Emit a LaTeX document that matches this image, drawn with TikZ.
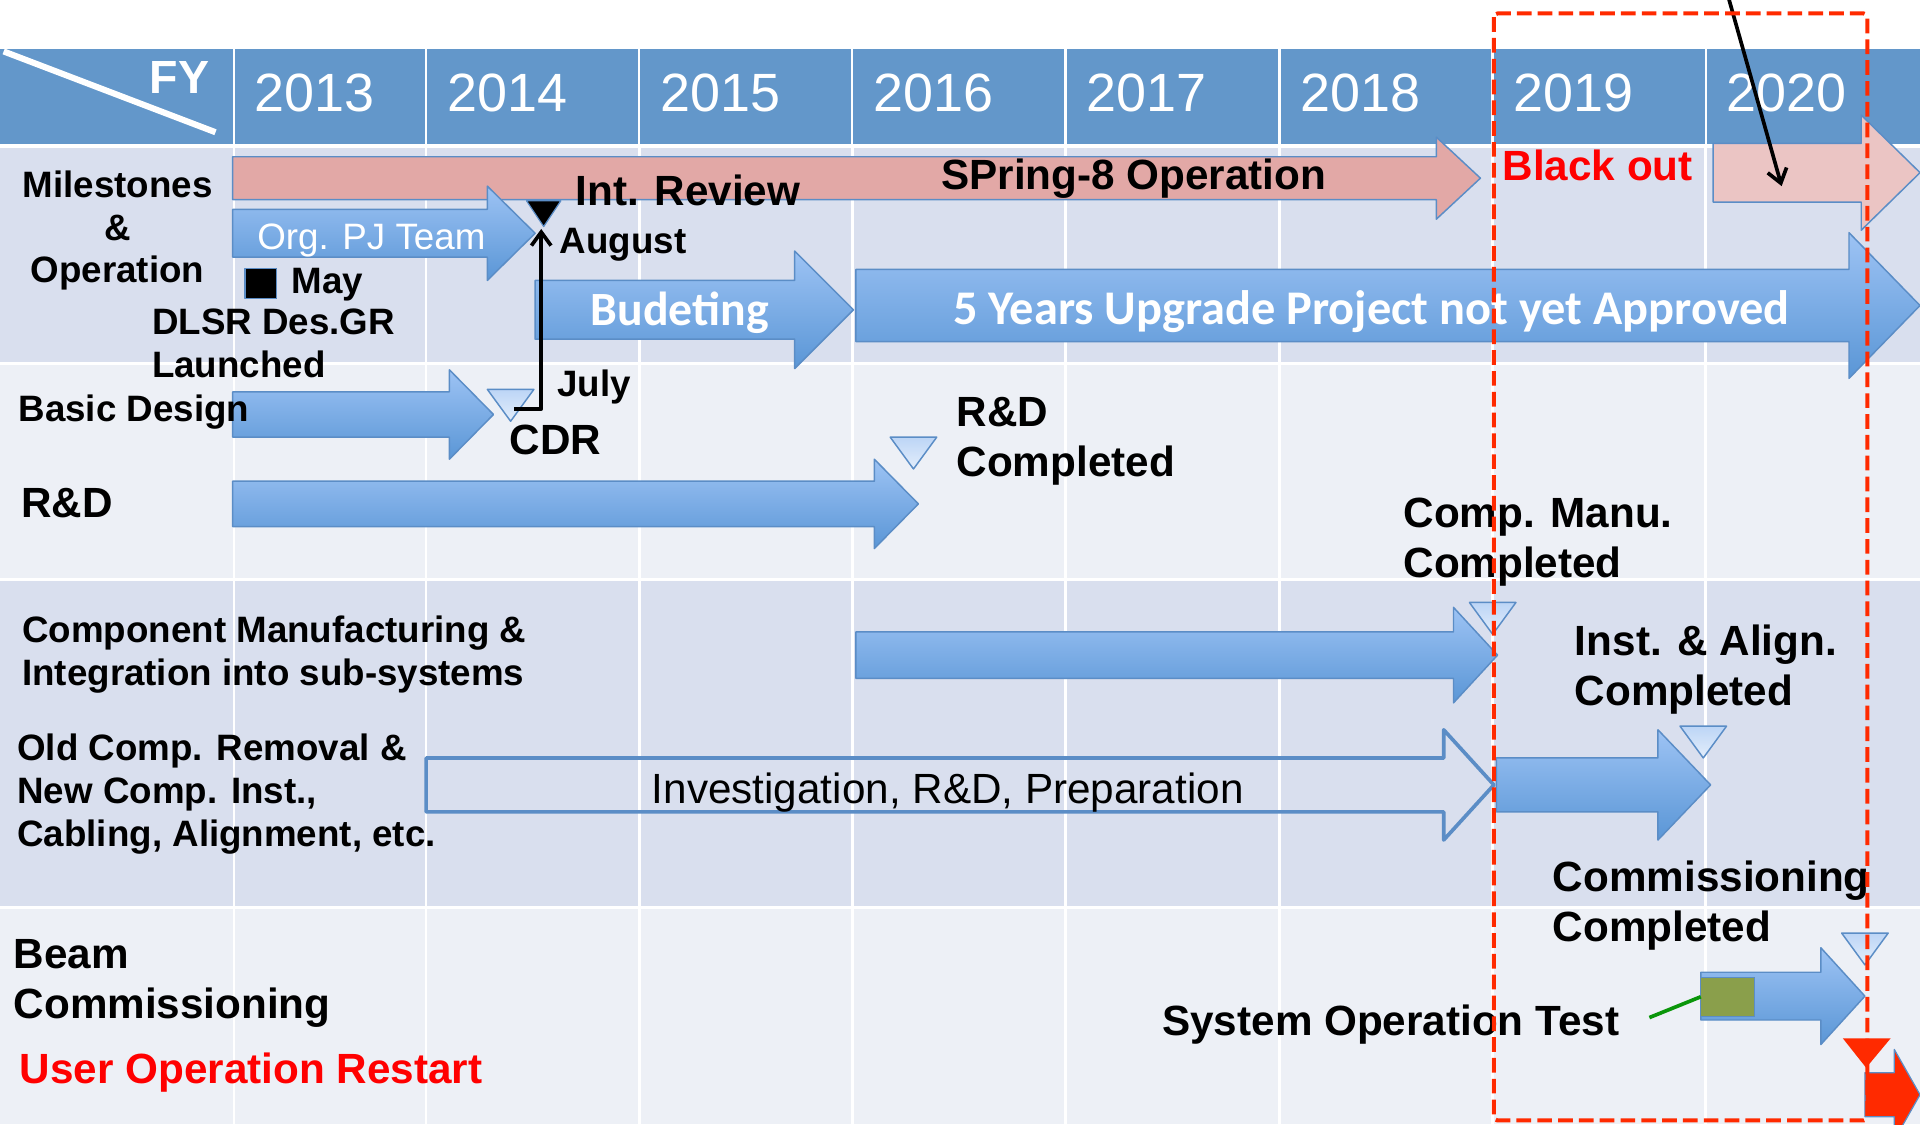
\documentclass[tikz,border=0pt]{standalone}
\usepackage{fontspec}
\setmainfont{Liberation Sans}
\newfontfamily\calibfont{Carlito}
\usetikzlibrary{arrows.meta}

\definecolor{hdrblue}{HTML}{6397CA}
\definecolor{rowdark}{HTML}{D9DFEE}
\definecolor{rowlight}{HTML}{EDF0F6}
\definecolor{barTop}{HTML}{9DC3F4}
\definecolor{barBot}{HTML}{5A96D6}
\definecolor{barEdge}{HTML}{5B8DC6}
\definecolor{opPink}{HTML}{E2A8A6}
\definecolor{opPale}{HTML}{EBC5C4}
\definecolor{triTop}{HTML}{BCD5F6}
\definecolor{triBot}{HTML}{E4EEFB}
\definecolor{alarm}{HTML}{FF2A00}
\definecolor{olive}{HTML}{8A9F4B}
\definecolor{testgreen}{HTML}{0A960A}

% block arrow: #1 style, #2 left, #3 head base, #4 tip, #5 top, #6 bottom, #7 head overhang
\newcommand{\blockarrow}[7]{%
  \path[#1] (#2,#5) -- (#3,#5) -- (#3,{#5-#7}) -- (#4,{(#5+#6)/2})
    -- (#3,{#6+#7}) -- (#3,#6) -- (#2,#6) -- cycle;}

\tikzset{
  bluebar/.style={top color=barTop, bottom color=barBot, draw=barEdge, line width=1.2pt},
  pinkbar/.style={fill=#1, draw=barEdge, line width=1.2pt},
  marker/.style={top color=triTop, bottom color=triBot, draw=barEdge, line width=1.2pt},
  lbl/.style={anchor=base west, inner sep=0pt, align=left, font=\bfseries\fontsize{30}{35}\selectfont},
  biglbl/.style={lbl, font=\bfseries\fontsize{34.5}{41}\selectfont},
  pointer/.style={line width=3pt, -{Straight Barb[length=11pt,width=16pt]}},
}

\begin{document}
\begin{tikzpicture}[x=1pt,y=-1pt,line join=round]
  \useasboundingbox (0,0) rectangle (1568,918);
  \clip (0,0) rectangle (1568,918);
  % row bands
  \fill[rowdark]  (0,121) rectangle (1568,297);
  \fill[rowlight] (0,297) rectangle (1568,473);
  \fill[rowdark]  (0,473) rectangle (1568,741);
  \fill[rowlight] (0,741) rectangle (1568,918);
  \foreach \gx in {191,348,522,696,870,1045,1219,1393}
    \draw[white, line width=2.2pt] (\gx,121) -- (\gx,918);
  \foreach \gy in {297,473,741}
    \draw[white, line width=2.5pt] (0,\gy) -- (1568,\gy);
  % header
  \fill[hdrblue] (0,40) rectangle (190,118);
  \draw[white, line width=5pt] (3,42) -- (176,108);
  \node (fy) [anchor=base west, inner sep=0pt, text=white, font=\bfseries\fontsize{38}{40}\selectfont] at (122,76) {FY};
  \foreach \yr/\xl/\xr in {2013/192/347, 2014/349/521, 2015/523/695, 2016/697/869,
        2017/871/1044, 2018/1046/1218, 2019/1220/1392, 2020/1394/1568}{
    \fill[hdrblue] (\xl,40) rectangle (\xr,118);
    \node (y\yr) [anchor=base west, inner sep=0pt, text=white, font=\fontsize{44}{46}\selectfont] at (\xl+16,91) {\yr};}

  % operation and project bars
  \blockarrow{pinkbar=opPink}{190}{1173}{1209}{128}{163}{16}
  \blockarrow{pinkbar=opPale}{1399}{1520}{1568}{117}{165}{23}
  \blockarrow{bluebar}{190}{398}{437}{171}{210}{19}
  \blockarrow{bluebar}{437}{649}{697}{229}{277}{24}
  \blockarrow{bluebar}{699}{1510}{1568}{220}{279}{30}
  \blockarrow{bluebar}{190}{367}{403}{320}{357}{18}
  \blockarrow{bluebar}{190}{714}{750}{393}{430}{18}
  \blockarrow{bluebar}{699}{1187}{1223}{516}{554}{20}
  \blockarrow{draw=barEdge, line width=3pt}{348}{1179}{1220}{619}{663}{23}
  \blockarrow{bluebar}{1222}{1354}{1397}{619}{663}{23}
  \blockarrow{bluebar}{1389}{1487}{1523}{794}{833}{20}
  \blockarrow{fill=alarm, draw=barEdge, line width=1pt}{1523}{1547}{1568}{876}{912}{19}
  \filldraw[fill=olive, draw=barEdge, line width=1pt] (1389,798) rectangle (1433,830);

  % milestone markers
  \foreach \tx/\ty in {417/318, 746/357, 1219/492, 1391/593, 1523/762}
    \path[marker] (\tx-19,\ty) -- (\tx+19,\ty) -- (\tx,\ty+26) -- cycle;
  \filldraw[fill=black, draw=barEdge, line width=1pt] (430,164) -- (458,164) -- (444,185) -- cycle;
  \filldraw[fill=black, draw=barEdge, line width=1pt] (200,219) rectangle (226,244);
  \fill[alarm] (1505,848) -- (1544,848) -- (1524,872) -- cycle;

  % bar texts
  \node (opLbl) [biglbl, anchor=base] at (926,155) {SPring-8 Operation};
  \node (orgLbl) [anchor=base west, inner sep=0pt, text=white, font=\fontsize{30}{35}\selectfont] at (210,204) {Org. PJ Team};
  \node (budLbl) [anchor=base, inner sep=0pt, text=white, font=\calibfont\bfseries\fontsize{39}{45}\selectfont] at (555,266) {Budeting};
  \node (fiveLbl) [anchor=base, inner sep=0pt, text=white, font=\calibfont\bfseries\fontsize{39.5}{45}\selectfont] at (1120,265) {5 Years Upgrade Project not yet Approved};
  \node (invLbl) [anchor=base, inner sep=0pt, font=\fontsize{34.5}{41}\selectfont] at (774,656) {Investigation, R\&D, Preparation};

  % row titles (multi-line nodes sit on their last baseline)
  \node (msLbl) [lbl, anchor=base, align=center] at (96,231) {Milestones\\\&\\Operation};
  \node (basicLbl) [lbl] at (15,344) {Basic Design};
  \node (rdLbl) [biglbl] at (17,423) {R\&D};
  \node (cmLbl) [lbl] at (18,560) {Component Manufacturing \&\\Integration into sub-systems};
  \node (oldLbl) [lbl] at (14,691) {Old Comp. Removal \&\\New Comp. Inst.,\\Cabling, Alignment, etc.};
  \node (beamLbl) [biglbl] at (11,832) {Beam\\Commissioning};
  \node (restartLbl) [biglbl, text=red] at (16,885) {User Operation Restart};

  % milestone texts
  \node (mayLbl) [lbl] at (238,240) {May};
  \node (dlsrLbl) [lbl] at (124,308) {DLSR Des.GR\\Launched};
  \node (revLbl) [biglbl] at (470,168) {Int. Review};
  \node (augLbl) [lbl] at (457,207) {August};
  \node (julyLbl) [lbl] at (455,324) {July};
  \node (cdrLbl) [biglbl] at (416,371) {CDR};
  \node (rdDone) [biglbl] at (781,389) {R\&D\\Completed};
  \node (cmDone) [biglbl] at (1146,472) {Comp. Manu.\\Completed};
  \node (iaDone) [biglbl] at (1286,576) {Inst. \& Align.\\Completed};
  \node (bcDone) [biglbl] at (1268,769) {Commissioning\\Completed};
  \node (sotLbl) [biglbl] at (949,846) {System Operation Test};
  \node (boLbl) [biglbl, text=red] at (1227,147) {Black out};

  % pointers
  \coordinate (julyFoot) at (420,334);
  \coordinate (julyBend) at (442,334);
  \coordinate (revTip) at (442,187);
  \draw[pointer] (julyFoot) -- (julyBend) -- (revTip);
  \coordinate (noteSrc) at (1411,-4);
  \coordinate (opMark) at (1455,152);
  \draw[pointer] (noteSrc) -- (opMark);
  \coordinate (testEnd) at (1347,831);
  \coordinate (testBox) at (1389,814);
  \draw[testgreen, line width=3pt] (testEnd) -- (testBox);

  % shutdown period
  \draw[alarm, line width=3.3pt, dash pattern=on 12pt off 5pt, rounded corners=3pt]
    (1220,11) rectangle (1525,915);
\end{tikzpicture}
\end{document}
